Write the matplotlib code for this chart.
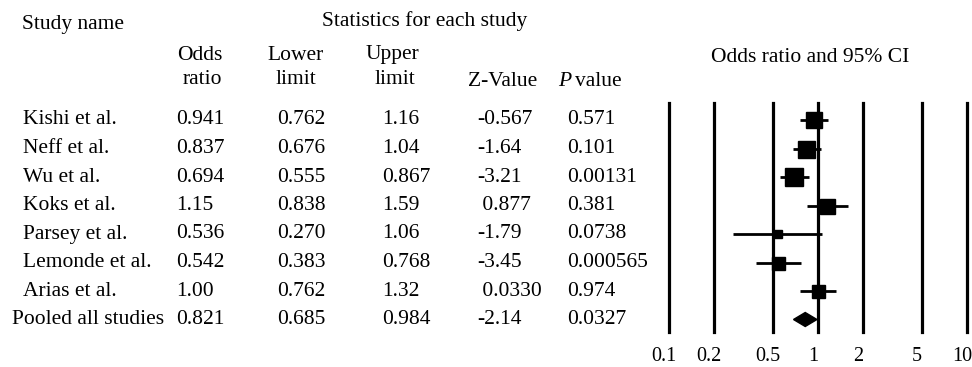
import matplotlib
matplotlib.use("Agg")
import matplotlib.pyplot as plt
from matplotlib.transforms import blended_transform_factory, ScaledTranslation
from matplotlib.patches import Polygon

plt.rcParams['font.family'] = ['Liberation Serif', 'DejaVu Serif']

studies = ["Kishi et al.", "Neff et al.", "Wu et al.", "Koks et al.", "Parsey et al.",
           "Lemonde et al.", "Arias et al.", "Pooled all studies"]
odds_ratio = [0.941, 0.837, 0.694, 1.15, 0.536, 0.542, 1.00, 0.821]
lower_limit = [0.762, 0.676, 0.555, 0.838, 0.270, 0.383, 0.762, 0.685]
upper_limit = [1.16, 1.04, 0.867, 1.59, 1.06, 0.768, 1.32, 0.984]
or_text = ["0.941", "0.837", "0.694", "1.15", "0.536", "0.542", "1.00", "0.821"]
lo_text = ["0.762", "0.676", "0.555", "0.838", "0.270", "0.383", "0.762", "0.685"]
hi_text = ["1.16", "1.04", "0.867", "1.59", "1.06", "0.768", "1.32", "0.984"]
z_text = ["-0.567", "-1.64", "-3.21", " 0.877", "-1.79", "-3.45", " 0.0330", "-2.14"]
p_text = ["0.571", "0.101", "0.00131", "0.381", "0.0738", "0.000565", "0.974", "0.0327"]
ticks = [0.1, 0.2, 0.5, 1, 2, 5, 10]
tick_labels = ["0.1", "0.2", "0.5", "1", "2", "5", "10"]
# relative box widths (px) as drawn (study weights)
box_px = [16, 17, 18, 15, 8, 13, 13]

W, H = 972, 367
fig = plt.figure(figsize=(W / 100, H / 100), dpi=100)
fs = 15.5

# forest axes in pixel geometry
x0, x1 = 669, 967
ytop, ybot = 103, 332
ax = fig.add_axes([x0 / W, 1 - ybot / H, (x1 - x0) / W, (ybot - ytop) / H])
ax.set_xscale('log')
ax.set_xlim(0.1, 10)
row0, rstep = 120, 28.5
ax.set_ylim((ybot - row0) / rstep, (ytop - row0) / rstep)
for s in ax.spines.values():
    s.set_visible(False)
ax.set_yticks([])
ax.minorticks_off()
ax.set_xticks(ticks)
ax.set_xticklabels(tick_labels, fontsize=14.5)
ax.tick_params(axis='x', length=0, pad=11)
off = ScaledTranslation(-5 / 100, 0, fig.dpi_scale_trans)
for lab in ax.get_xticklabels():
    lab.set_transform(lab.get_transform() + off)
ax.patch.set_alpha(0)

for t in ticks:
    ax.axvline(t, color='black', lw=2.3, clip_on=False, zorder=1)

n = len(studies)
for i in range(n - 1):
    ax.plot([lower_limit[i], upper_limit[i]], [i, i], color='black', lw=2.0,
            solid_capstyle='butt', zorder=2)
    ax.plot([odds_ratio[i]], [i], marker='s', color='black',
            markersize=box_px[i] * 0.72, zorder=3)
i = n - 1
h = 7 / rstep
diamond = Polygon([(lower_limit[i], i), (odds_ratio[i], i - h),
                   (upper_limit[i], i), (odds_ratio[i], i + h)],
                  closed=True, color='black', zorder=3)
ax.add_patch(diamond)

tr = blended_transform_factory(fig.transFigure, ax.transData)
cols = [(176, or_text), (277, lo_text), (382, hi_text), (477, z_text), (567, p_text)]
for i in range(n):
    xname = 12 if i == n - 1 else 23
    fig.text(xname / W, i, studies[i], transform=tr, fontsize=fs, va='center', ha='left')
    for xc, arr in cols:
        fig.text(xc / W, i, arr[i], transform=tr, fontsize=fs, va='center', ha='left')

def ft(x, y, s, **kw):
    fig.text(x / W, 1 - y / H, s, fontsize=fs, va='center', **kw)

ft(22, 24, "Study name", ha='left')
ft(425, 21, "Statistics for each study", ha='center')
ft(200, 55, "Odds", ha='center')
ft(202, 80, "ratio", ha='center')
ft(296, 55, "Lower", ha='center')
ft(296, 80, "limit", ha='center')
ft(392, 55, "Upper", ha='center')
ft(395, 80, "limit", ha='center')
ft(468, 82, "Z-Value", ha='left')
ft(558, 82, "P", ha='left', style='italic')
ft(575, 82, "value", ha='left')
ft(810, 57, "Odds ratio and 95% CI", ha='center')

fig.savefig("out.png", dpi=100)
